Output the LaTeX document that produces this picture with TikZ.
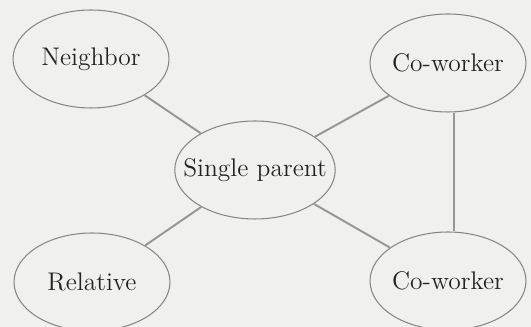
\documentclass[tikz,border=0pt]{standalone}
\usepackage{tikz}
\usetikzlibrary{shapes.geometric}

\definecolor{paper}{RGB}{240,240,238}
\definecolor{rim}{RGB}{135,135,135}
\definecolor{link}{RGB}{150,150,150}
\definecolor{ink}{RGB}{35,35,35}

\tikzset{
  bubble/.style={ellipse, draw=rim, line width=0.6pt, text=ink,
    minimum width=3.12cm, minimum height=1.96cm,
    inner xsep=-0.3cm, inner ysep=0pt,
    font=\fontsize{14.5}{16}\selectfont},
  tie/.style={draw=link, line width=1.1pt}
}

\begin{document}
\begin{tikzpicture}[x=0.02cm, y=0.02cm]
    \fill[paper] (0,0) rectangle (531,327);
    \clip (0,0) rectangle (531,327);

    \node[bubble] at (91,268)    (neighbor)  {Neighbor};
    \node[bubble] at (448,264)   (cwtop)     {Co-worker};
    \node[bubble] at (255,157)   (parent)    {Single parent};
    \node[bubble] at (92,45)     (relative)  {Relative};
    \node[bubble] at (448,46)    (cwbot)     {Co-worker};

    \draw[tie] (neighbor) -- (parent);
    \draw[tie] (parent) -- (cwtop);
    \draw[tie] (parent) -- (relative);
    \draw[tie] (parent) -- (cwbot);
    \draw[tie] ([xshift=3.4pt]cwtop.south) -- ([xshift=3.4pt]cwbot.north);
\end{tikzpicture}
\end{document}
